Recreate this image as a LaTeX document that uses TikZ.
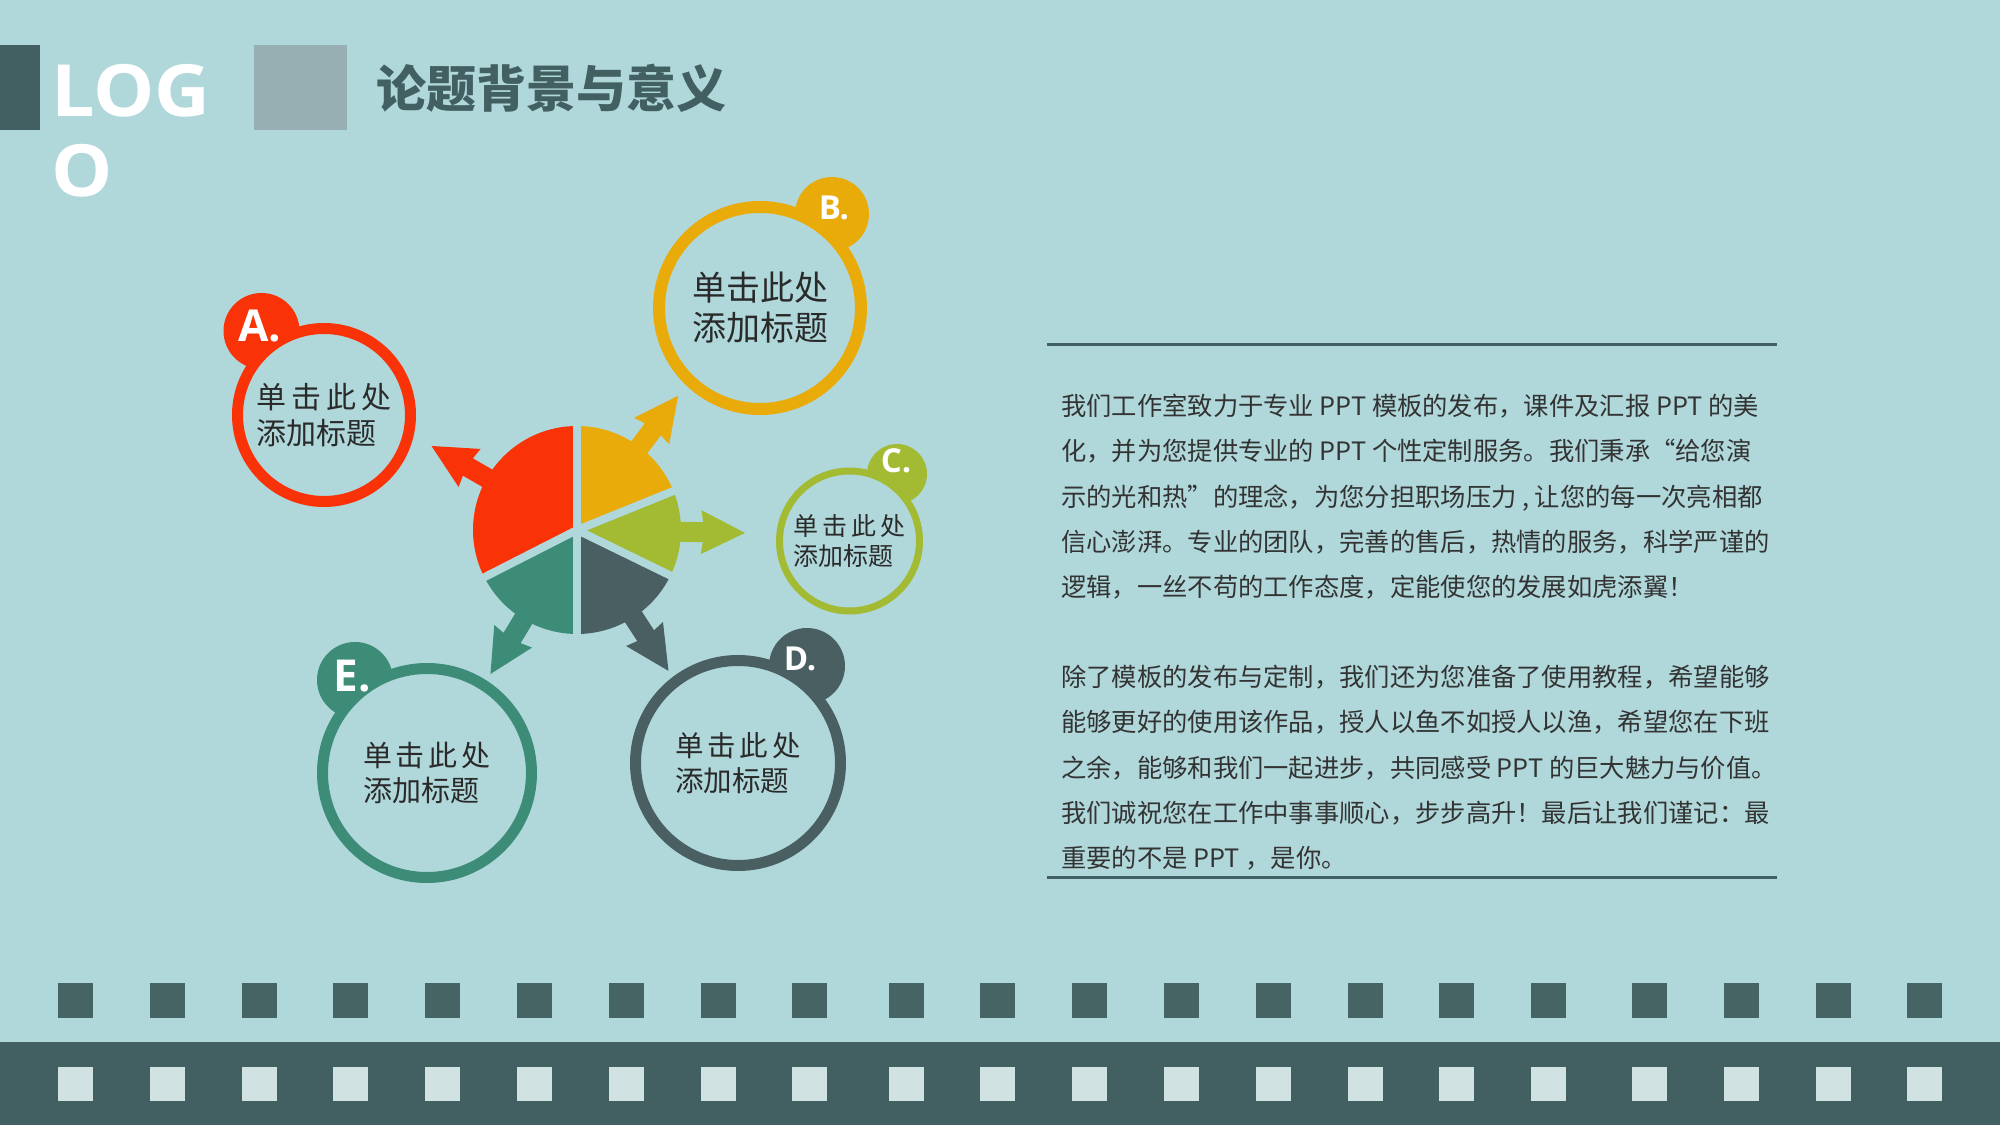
\documentclass[tikz,border=0pt]{standalone}
\usepackage{fontspec}
\setmainfont{Noto Sans CJK SC}
\newfontfamily\logofont{Open Sans}
\usetikzlibrary{positioning}

\definecolor{bgteal}{HTML}{B0D8DB}
\definecolor{darkslate}{HTML}{426061}
\definecolor{sqdark}{HTML}{476464}
\definecolor{sqlight}{HTML}{D0E2E2}
\definecolor{greybox}{HTML}{97AEB3}
\definecolor{cred}{HTML}{F93207}
\definecolor{cyellow}{HTML}{E9AB0A}
\definecolor{cgreen}{HTML}{A3BA33}
\definecolor{cslate}{HTML}{4A5F61}
\definecolor{cteal}{HTML}{3D8C77}
\definecolor{bodytext}{HTML}{333333}
\definecolor{ringtext}{HTML}{2A2A2A}

% arrow out of the pie: #1 angle, #2 colour
\newcommand{\piearrow}[2]{%
  \begin{scope}[shift={(pie)},rotate=#1]
    \fill[#2] (90,-10) -- (126,-10) -- (124,-22) -- (168,0) -- (124,22) -- (126,10) -- (90,10) -- cycle;
  \end{scope}}

\begin{document}
\begin{tikzpicture}[x=1pt,y=1pt,
  ring/.style={circle,fill=bgteal,line width=11pt,inner sep=0pt,align=left,text=ringtext},
  badge/.style={circle,inner sep=0pt},
  tag/.style={text=white,inner sep=0pt},
  para/.style={anchor=north west,inner sep=0pt,align=left,text=bodytext,
    font=\fontsize{25.3}{45.2}\selectfont}]
  \useasboundingbox (0,0) rectangle (2000,1125);
  \fill[bgteal] (0,0) rectangle (2000,1125);

  % header
  \fill[darkslate] (0,995) rectangle (40,1080);
  \node[anchor=north west,inner sep=0pt,align=left,text=white,xscale=1.07,transform shape,
    font=\logofont\bfseries\fontsize{72}{80}\selectfont] (logo) at (51,1061) {LOG\\O};
  \fill[greybox] (254,995) rectangle (347,1080);
  \node[anchor=west,inner sep=0pt,text=darkslate,
    font=\bfseries\fontsize{50}{50}\selectfont] (title) at (376,1037) {论题背景与意义};

  % pie
  \coordinate (pie) at (577,595);
  \fill[cred] (pie) -- ++(90:104) arc[start angle=90,end angle=207,radius=104] -- cycle;
  \fill[cteal] (pie) -- ++(207:104) arc[start angle=207,end angle=270,radius=104] -- cycle;
  \fill[cslate] (pie) -- ++(270:104) arc[start angle=270,end angle=334,radius=104] -- cycle;
  \fill[cgreen] (pie) -- ++(-26:104) arc[start angle=-26,end angle=22,radius=104] -- cycle;
  \fill[cyellow] (pie) -- ++(22:104) arc[start angle=22,end angle=90,radius=104] -- cycle;
  \piearrow{150}{cred}
  \piearrow{53}{cyellow}
  \piearrow{-1}{cgreen}
  \piearrow{-57}{cslate}
  \piearrow{239}{cteal}
  \foreach \a in {90,207,270,334,22}
    \draw[bgteal,line width=8pt] (pie) -- ++(\a:112);

  % A
  \node[badge,fill=cred,minimum size=76] (badgeA) at (261.5,794) {};
  \node[ring,draw=cred,minimum size=173,font=\fontsize{30}{36}\selectfont]
    (ringA) at (324,710) {单\kern5pt 击\kern5pt 此\kern5pt 处\\添加标题};
  \node[tag,font=\logofont\bfseries\fontsize{44}{44}\selectfont] (tagA) at (259.5,799) {A.};
  % B
  \node[badge,fill=cyellow,minimum size=74] (badgeB) at (832,911) {};
  \node[ring,draw=cyellow,line width=12pt,minimum size=202,font=\fontsize{34}{40}\selectfont]
    (ringB) at (760,817) {单击此处\\添加标题};
  \node[tag,font=\logofont\bfseries\fontsize{33}{33}\selectfont] (tagB) at (834,917) {B.};
  % C
  \node[badge,fill=cgreen,minimum size=60] (badgeC) at (897,651) {};
  \node[ring,draw=cgreen,line width=7pt,minimum size=140,font=\fontsize{25}{30.5}\selectfont]
    (ringC) at (849.5,584) {单\kern4pt 击\kern4pt 此\kern4pt 处\\添加标题};
  \node[tag,font=\logofont\bfseries\fontsize{33}{33}\selectfont] (tagC) at (896,664) {C.};
  % D
  \node[badge,fill=cslate,minimum size=76] (badgeD) at (807,459) {};
  \node[ring,draw=cslate,minimum size=205,font=\fontsize{28.5}{35}\selectfont]
    (ringD) at (738,362) {单\kern4pt 击\kern4pt 此\kern4pt 处\\添加标题};
  \node[tag,font=\logofont\bfseries\fontsize{33}{33}\selectfont] (tagD) at (800,466.5) {D.};
  % E
  \node[badge,fill=cteal,minimum size=76] (badgeE) at (355,445) {};
  \node[ring,draw=cteal,minimum size=209,font=\fontsize{29}{35}\selectfont]
    (ringE) at (427,352) {单\kern4pt 击\kern4pt 此\kern4pt 处\\添加标题};
  \node[tag,font=\logofont\bfseries\fontsize{44}{44}\selectfont] (tagE) at (352.5,449) {E.};

  % text block
  \draw[darkslate,line width=3pt] (1047,780) -- (1777,780);
  \node[para] (para1) at (1061,731) {%
    我们工作室致力于专业 PPT 模板的发布，课件及汇报 PPT 的美\\
    化，并为您提供专业的 PPT 个性定制服务。我们秉承“给您演\\
    示的光和热”的理念，为您分担职场压力 , 让您的每一次亮相都\\
    信心澎湃。专业的团队，完善的售后，热情的服务，科学严谨的\\
    逻辑，一丝不苟的工作态度，定能使您的发展如虎添翼！};
  \node[para] (para2) at (1061,460) {%
    除了模板的发布与定制，我们还为您准备了使用教程，希望能够\\
    能够更好的使用该作品，授人以鱼不如授人以渔，希望您在下班\\
    之余，能够和我们一起进步，共同感受 PPT 的巨大魅力与价值。\\
    我们诚祝您在工作中事事顺心，步步高升！最后让我们谨记：最\\
    重要的不是 PPT ，是你。};
  \draw[darkslate,line width=3pt] (1047,247) -- (1777,247);

  % footer
  \fill[darkslate] (0,0) rectangle (2000,83);
  \foreach \x in {75.5,167.3,259.1,350.9,442.7,534.5,626.3,718.1,809.9,
                  906,997.8,1089.6,1181.4,1273.2,1365,1456.8,1548.6,
                  1649.5,1741.3,1833.1,1924.9} {
    \fill[sqdark] (\x-17.5,107) rectangle ++(35,35);
    \fill[sqlight] (\x-17.5,24) rectangle ++(35,34);
  }
\end{tikzpicture}
\end{document}
